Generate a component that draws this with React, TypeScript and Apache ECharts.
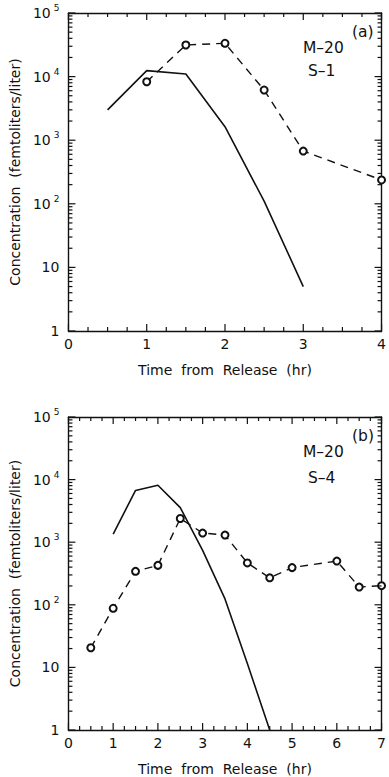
import React, { useEffect, useRef } from "react";
import * as echarts from "echarts";

// Panel (a): M-20 / S-1
const xSolidA = [0.5, 1, 1.5, 2, 2.5, 3];
const solidA = [3000, 12400, 11000, 1630, 110, 5];
const xDashA = [1, 1.5, 2, 2.5, 3, 4];
const dashA = [8300, 31400, 33400, 6150, 675, 237];

// Panel (b): M-20 / S-4
const xSolidB = [1, 1.5, 2, 2.5, 3, 3.5, 4, 4.5];
const solidB = [1350, 6700, 8130, 3570, 740, 124, 11.5, 1];
const xDashB = [0.5, 1, 1.5, 2, 2.5, 3, 3.5, 4, 4.5, 5, 6, 6.5, 7];
const dashB = [20.6, 88, 343, 427, 2390, 1400, 1300, 466, 270, 393, 500, 192, 202];

const xMaxA = 4;
const xMaxB = 7;
const yMajor = [1, 10, 100, 1000, 10000, 100000];
const minorMultipliers = [2, 3, 4, 5, 6, 7, 8, 9];

const FONT = "DejaVu Sans";
const INK = "#111";

// tick items: [x, y, kind] kind 0 = y major, 1 = y minor, 2 = x major, 3 = x minor
function tickItems(xMax: number) {
  const items: number[][] = [];
  yMajor.forEach((v) => items.push([0, v, 0]));
  yMajor.slice(0, -1).forEach((d) => minorMultipliers.forEach((m) => items.push([0, d * m, 1])));
  for (let q = 0; q <= xMax * 4; q++) items.push([q / 4, 1, q % 4 === 0 ? 2 : 3]);
  return items;
}

function yLabel(v: number) {
  const e = Math.round(Math.log10(v));
  if (e === 0) return "1";
  if (e === 1) return "10";
  return `{b|10}{s|${e}}`;
}

function xAxes(gridIndex: number, max: number) {
  const common = {
    gridIndex,
    type: "value",
    min: 0,
    max,
    interval: 1,
    axisLine: { show: true, onZero: false, lineStyle: { color: INK, width: 1.4 } },
    axisTick: { show: false },
    splitLine: { show: false },
  };
  return [
    {
      ...common,
      position: "bottom",
      name: "Time  from  Release  (hr)",
      nameLocation: "middle",
      nameGap: 32,
      nameTextStyle: { fontFamily: FONT, fontSize: 14, color: INK },
      axisLabel: { show: true, margin: 6, fontFamily: FONT, fontSize: 14, color: INK },
    },
    { ...common, position: "top", axisLabel: { show: false } },
  ];
}

function yAxes(gridIndex: number) {
  const common = {
    gridIndex,
    type: "log",
    logBase: 10,
    min: 1,
    max: 100000,
    axisLine: { show: true, onZero: false, lineStyle: { color: INK, width: 1.4 } },
    axisTick: { show: false },
    splitLine: { show: false },
  };
  return [
    {
      ...common,
      position: "left",
      name: "Concentration  (femtoliters/liter)",
      nameLocation: "middle",
      nameGap: 44,
      nameTextStyle: { fontFamily: FONT, fontSize: 14, color: INK },
      axisLabel: {
        show: true,
        margin: 9,
        fontFamily: FONT,
        fontSize: 14,
        color: INK,
        formatter: yLabel,
        rich: {
          b: { fontFamily: FONT, fontSize: 14, color: INK },
          s: { fontFamily: FONT, fontSize: 9, color: INK, padding: [0, 0, 10, 3] },
        },
      },
    },
    { ...common, position: "right", axisLabel: { show: false } },
  ];
}

function tickSeries(xi: number, yi: number, xMax: number) {
  return {
    type: "custom",
    xAxisIndex: xi,
    yAxisIndex: yi,
    silent: true,
    z: 10,
    data: tickItems(xMax),
    renderItem: (params: any, api: any) => {
      const kind = api.value(2);
      const cs = params.coordSys;
      const st = { stroke: INK, lineWidth: 1.2 };
      if (kind < 2) {
        const y = api.coord([0, api.value(1)])[1];
        const len = kind === 0 ? 7 : 4;
        return {
          type: "group",
          children: [
            { type: "line", shape: { x1: cs.x, y1: y, x2: cs.x + len, y2: y }, style: st },
            { type: "line", shape: { x1: cs.x + cs.width, y1: y, x2: cs.x + cs.width - len, y2: y }, style: st },
          ],
        };
      }
      const x = api.coord([api.value(0), 1])[0];
      const len = kind === 2 ? 7 : 4;
      return {
        type: "group",
        children: [
          { type: "line", shape: { x1: x, y1: cs.y + cs.height, x2: x, y2: cs.y + cs.height - len }, style: st },
          { type: "line", shape: { x1: x, y1: cs.y, x2: x, y2: cs.y + len }, style: st },
        ],
      };
    },
  };
}

function solid(xs: number[], ys: number[], xi: number, yi: number) {
  return {
    type: "line",
    xAxisIndex: xi,
    yAxisIndex: yi,
    data: xs.map((x, i) => [x, ys[i]]),
    showSymbol: false,
    symbol: "none",
    lineStyle: { color: INK, width: 1.6, type: "solid" },
  };
}

function dashed(xs: number[], ys: number[], xi: number, yi: number) {
  return {
    type: "line",
    xAxisIndex: xi,
    yAxisIndex: yi,
    data: xs.map((x, i) => [x, ys[i]]),
    showSymbol: true,
    showAllSymbol: true,
    symbol: "emptyCircle",
    symbolSize: 7,
    itemStyle: { color: INK, borderColor: INK, borderWidth: 1.2 },
    lineStyle: { color: INK, width: 1.4, type: [8, 6] },
  };
}

function txt(left: number, top: number, text: string) {
  return {
    type: "text",
    left,
    top,
    style: { text, fontFamily: FONT, fontSize: 15.5, fill: INK },
  };
}

export default function App() {
  const ref = useRef<HTMLDivElement>(null);
  useEffect(() => {
    if (!ref.current) return;
    const chart = echarts.init(ref.current, null, { renderer: "svg" });
    chart.setOption({
      animation: false,
      backgroundColor: "#fff",
      grid: [
        { left: 68, top: 13, width: 319, height: 318 },
        { left: 68, top: 417, width: 319, height: 316 },
      ],
      xAxis: [...xAxes(0, xMaxA), ...xAxes(1, xMaxB)],
      yAxis: [...yAxes(0), ...yAxes(1)],
      series: [
        tickSeries(0, 0, xMaxA),
        tickSeries(2, 2, xMaxB),
        solid(xSolidA, solidA, 0, 0),
        dashed(xDashA, dashA, 0, 0),
        solid(xSolidB, solidB, 2, 2),
        dashed(xDashB, dashB, 2, 2),
      ],
      graphic: [
        txt(352, 24, "(a)"),
        txt(303, 40, "M–20"),
        txt(308, 63, "S–1"),
        txt(352, 428, "(b)"),
        txt(303, 444, "M–20"),
        txt(308, 470, "S–4"),
      ],
    });
    return () => chart.dispose();
  }, []);
  return (
    <div
      ref={ref}
      style={{ position: "absolute", left: 0, top: 0, width: 389, height: 777, background: "#fff" }}
    />
  );
}
